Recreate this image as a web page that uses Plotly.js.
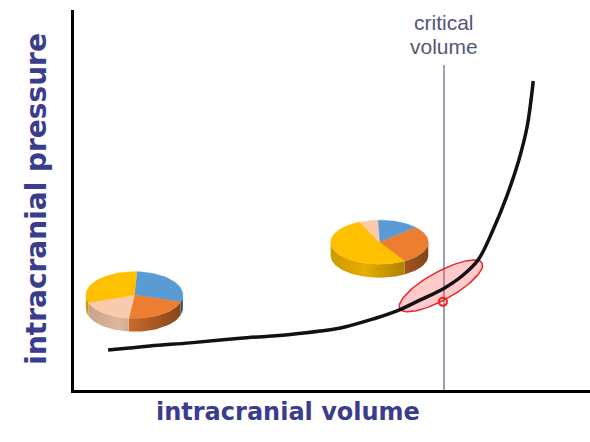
<!DOCTYPE html>
<html>
<head>
<meta charset="utf-8">
<script src="https://cdn.plot.ly/plotly-3.0.1.min.js"></script>
<style>html,body{margin:0;padding:0;background:#fff;}#chart{width:590px;height:442px;}</style>
</head>
<body>
<div id="chart"></div>
<script>
// ---- data ----
const volume   = [6.6, 14.7, 22.5, 32.2, 41.9, 47.7, 52.5, 58.0, 62.6, 67.1, 71.5, 75.2, 78.3, 81.2, 83.9, 86.1, 87.8, 89.0];
const pressure = [10.5, 11.6, 12.4, 13.6, 14.6, 15.5, 16.6, 18.7, 20.8, 23.7, 26.6, 30.0, 34.2, 42.1, 51.1, 60.0, 69.2, 81.3];
const criticalVolume = 71.7;
const criticalTop = 85.5;
const markerVolume = [71.5];
const markerPressure = [23.2];

// pie slices, clockwise from 12 o'clock
const pieEarlyValues = [29, 22, 18, 31];
const pieEarlyColors = ['#5b9bd5', '#ed7d31', '#f8cbad', '#ffc000'];
const pieLateValues  = [14, 28, 52, 6];
const pieLateColors  = ['#5b9bd5', '#ed7d31', '#ffc000', '#f8cbad'];

// ---- geometry (layout only) ----
const PXX = 5.16, PXY = 3.8; // pixels per axis unit
const pies = [
  {values: pieEarlyValues, colors: pieEarlyColors, cx: 11.7, cy: 25.0, a: 48.5, b: 23.3, d: 13.4, start: 3},
  {values: pieLateValues,  colors: pieLateColors,  cx: 59.2, cy: 38.9, a: 48.8, b: 22.0, d: 13.5, start: -2}
];
const halo = {cx: 71.1, cy: 27.4, a: 47, b: 14, phi: 29};

function shade(hex, f) {
  const n = parseInt(hex.slice(1), 16);
  const r = Math.round(((n >> 16) & 255) * f), g = Math.round(((n >> 8) & 255) * f), b = Math.round((n & 255) * f);
  return 'rgb(' + r + ',' + g + ',' + b + ')';
}
function pt(p, deg, drop) {
  const t = deg * Math.PI / 180;
  return [p.cx + p.a * Math.sin(t) / PXX, p.cy + (p.b * Math.cos(t) - drop) / PXY];
}

const traces = [];
// halo ellipse
(function () {
  const xs = [], ys = [], ph = halo.phi * Math.PI / 180;
  for (let i = 0; i <= 120; i++) {
    const t = 2 * Math.PI * i / 120;
    const dx = halo.a * Math.cos(t) * Math.cos(ph) - halo.b * Math.sin(t) * Math.sin(ph);
    const dy = halo.a * Math.cos(t) * Math.sin(ph) + halo.b * Math.sin(t) * Math.cos(ph);
    xs.push(halo.cx + dx / PXX); ys.push(halo.cy + dy / PXY);
  }
  traces.push({x: xs, y: ys, mode: 'lines', fill: 'toself', fillcolor: 'rgba(255,90,90,0.32)',
    line: {color: '#e8292b', width: 1.5}, hoverinfo: 'skip', showlegend: false});
})();

// curve
traces.push({x: volume, y: pressure, mode: 'lines', line: {color: '#111111', width: 3.5, shape: 'spline', smoothing: 1},
  hoverinfo: 'skip', showlegend: false});
// marker
traces.push({x: markerVolume, y: markerPressure, mode: 'markers',
  marker: {symbol: 'circle-open', size: 8, color: '#ff1a1a', line: {width: 2, color: '#ff1a1a'}},
  hoverinfo: 'skip', showlegend: false});

// pies
pies.forEach(function (p) {
  const total = p.values.reduce((s, v) => s + v, 0);
  const bounds = [];
  let acc = p.start;
  p.values.forEach(function (v) { const t1 = acc; acc += v / total * 360; bounds.push([t1, acc]); });
  // sides
  bounds.forEach(function (bd, i) {
    const s = Math.max(bd[0], 90), e = Math.min(bd[1], 270);
    if (e <= s) return;
    const xs = [], ys = [];
    const n = Math.max(4, Math.ceil((e - s) / 3));
    for (let k = 0; k <= n; k++) { const q = pt(p, s + (e - s) * k / n, 0); xs.push(q[0]); ys.push(q[1]); }
    for (let k = n; k >= 0; k--) { const q = pt(p, s + (e - s) * k / n, p.d); xs.push(q[0]); ys.push(q[1]); }
    const c = p.colors[i];
    traces.push({x: xs, y: ys, mode: 'lines', fill: 'toself', line: {width: 0, color: 'rgba(0,0,0,0)'},
      fillcolor: shade(c, 0.75),
      fillgradient: {type: 'horizontal', start: p.cx - p.a / PXX, stop: p.cx + p.a / PXX,
        colorscale: [[0, shade(c, 0.8)], [0.35, shade(c, 0.9)], [1, shade(c, 0.55)]]},
      hoverinfo: 'skip', showlegend: false});
  });
  // tops
  bounds.forEach(function (bd, i) {
    const xs = [p.cx], ys = [p.cy];
    const n = Math.max(4, Math.ceil((bd[1] - bd[0]) / 3));
    for (let k = 0; k <= n; k++) { const q = pt(p, bd[0] + (bd[1] - bd[0]) * k / n, 0); xs.push(q[0]); ys.push(q[1]); }
    xs.push(p.cx); ys.push(p.cy);
    traces.push({x: xs, y: ys, mode: 'lines', fill: 'toself', fillcolor: p.colors[i],
      line: {width: 0.5, color: p.colors[i]}, hoverinfo: 'skip', showlegend: false});
  });
});

const titleColor = '#3b3d8c';
const layout = {
  width: 590, height: 442,
  margin: {l: 74, r: 0, t: 10, b: 52},
  paper_bgcolor: '#ffffff', plot_bgcolor: '#ffffff',
  showlegend: false,
  xaxis: {range: [0, 100], showgrid: false, zeroline: false, showticklabels: false, ticks: '',
    showline: true, linecolor: '#000000', linewidth: 3, fixedrange: true},
  yaxis: {range: [0, 100], showgrid: false, zeroline: false, showticklabels: false, ticks: '',
    showline: true, linecolor: '#000000', linewidth: 3, fixedrange: true},
  shapes: [{type: 'line', xref: 'x', yref: 'y', x0: criticalVolume, x1: criticalVolume, y0: 0, y1: criticalTop,
    line: {color: '#7b7ba8', width: 1.5}, layer: 'below'}],
  annotations: [
    {text: '<b>intracranial volume</b>', xref: 'paper', yref: 'paper', x: 0.415, y: -0.058,
      xanchor: 'center', yanchor: 'middle', showarrow: false,
      font: {family: 'DejaVu Sans', size: 24, color: titleColor}},
    {text: '<b>intracranial pressure</b>', xref: 'paper', yref: 'paper', x: -0.072, y: 0.503,
      xanchor: 'center', yanchor: 'middle', textangle: -90, showarrow: false,
      font: {family: 'DejaVu Sans', size: 28, color: titleColor}},
    {text: 'critical', xref: 'x', yref: 'paper', x: criticalVolume, y: 0.966,
      xanchor: 'center', yanchor: 'middle', showarrow: false,
      font: {family: 'Liberation Sans, Arial', size: 21, color: '#55557a'}},
    {text: 'volume', xref: 'x', yref: 'paper', x: criticalVolume, y: 0.905,
      xanchor: 'center', yanchor: 'middle', showarrow: false,
      font: {family: 'Liberation Sans, Arial', size: 21, color: '#55557a'}}
  ]
};
Plotly.newPlot('chart', traces, layout, {displayModeBar: false, staticPlot: true});
</script>
</body>
</html>
